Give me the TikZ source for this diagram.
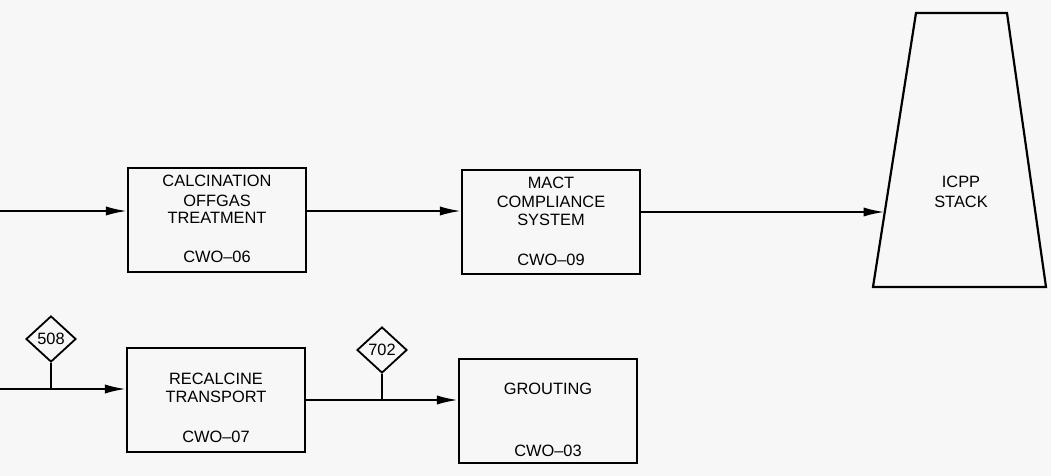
\documentclass[tikz,border=0pt]{standalone}
\usepackage{fontspec}
\setmainfont{Liberation Sans}
\usetikzlibrary{arrows.meta,shapes.geometric}
\begin{document}
\begin{tikzpicture}[x=0.5pt,y=-0.5pt,
  every node/.style={font=\fontsize{8.2}{9}\selectfont},
  procbox/.style={draw,line width=1.1pt,minimum width=89pt,minimum height=52pt,inner sep=0pt},
  lbl/.style={anchor=base,inner sep=0pt,align=center},
  tag/.style={draw,diamond,line width=0.9pt,minimum width=25pt,minimum height=23pt,inner sep=0pt},
  flow/.style={line width=1pt,-{Latex[length=10.5pt,width=4.6pt]}},
  plain/.style={line width=1pt}]
\fill[black!3] (0,0) rectangle (1051,476);
\useasboundingbox (0,0) rectangle (1051,476);
% boxes
\node[procbox] (calc) at (217,220) {};
\node[procbox] (mact) at (551,222) {};
\node[procbox] (recal) at (216,400) {};
\node[procbox] (grout) at (548,411) {};
% labels
\node[lbl] (t1a) at (217,187) {CALCINATION};
\node[lbl] (t1b) at (217,206) {OFFGAS};
\node[lbl] (t1c) at (217,224) {TREATMENT};
\node[lbl] (t1d) at (217,263) {CWO--06};
\node[lbl] (t2a) at (551,189) {MACT};
\node[lbl] (t2b) at (551,208) {COMPLIANCE};
\node[lbl] (t2c) at (551,226) {SYSTEM};
\node[lbl] (t2d) at (551,265) {CWO--09};
\node[lbl] (t3a) at (216,384) {RECALCINE};
\node[lbl] (t3b) at (216,402) {TRANSPORT};
\node[lbl] (t3c) at (216,442) {CWO--07};
\node[lbl] (t4a) at (548,394) {GROUTING};
\node[lbl] (t4b) at (548,456) {CWO--03};
% stack
\coordinate (s1) at (916,13);
\coordinate (s2) at (1007,13);
\coordinate (s3) at (1046,287);
\coordinate (s4) at (873,287);
\draw[line width=1.1pt,line join=miter] (s1) -- (s2) -- (s3) -- (s4) -- cycle;
\node[lbl] (st1) at (961,188) {ICPP};
\node[lbl] (st2) at (961,207) {STACK};
\coordinate (stackin) at (884.5,212);
% diamonds
\node[tag] (d508) at (51,339) {508};
\node[tag] (d702) at (382,350) {702};
% connectors
\coordinate (in1) at (0,211);
\coordinate (in3) at (0,389);
\draw[flow] (in1) -- (calc.west |- in1);
\draw[flow] (calc.east |- in1) -- (mact.west |- in1);
\draw[flow] (mact.east |- stackin) -- (stackin);
\draw[flow] (in3) -- (recal.west |- in3);
\draw[flow] (recal.east) -- (recal.east -| grout.west);
\draw[plain] (d508.south) -- (d508.south |- in3);
\draw[plain] (d702.south) -- (d702.south |- recal.east);
\end{tikzpicture}
\end{document}
